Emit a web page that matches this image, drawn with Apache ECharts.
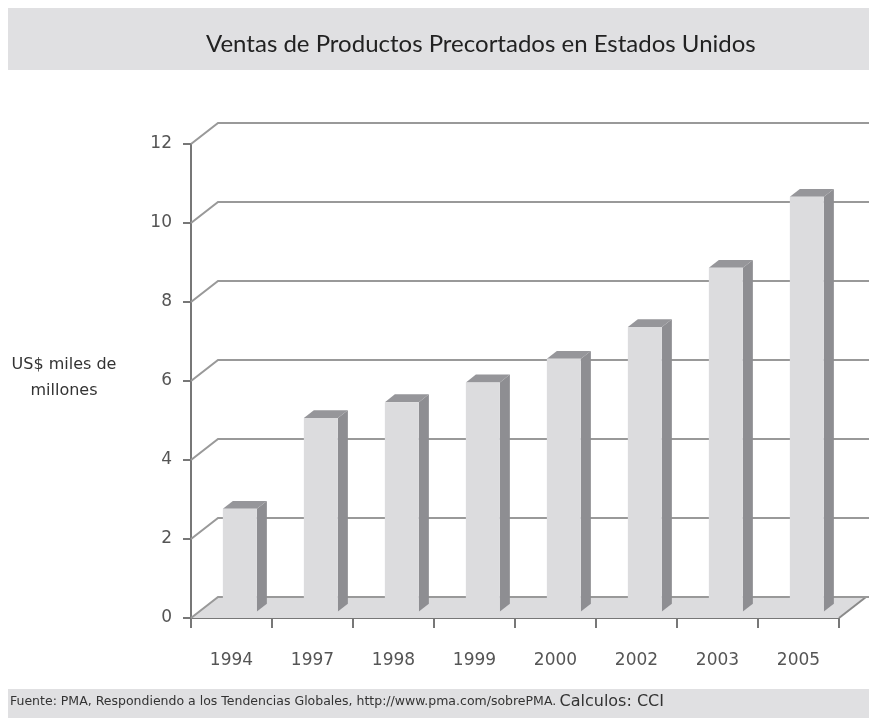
<!DOCTYPE html>
<html>
<head>
<meta charset="utf-8">
<script src="https://cdn.jsdelivr.net/npm/echarts@6/dist/echarts.min.js"></script>
<style>
  html, body { margin: 0; padding: 0; background: #fff; }
  #main { width: 869px; height: 718px; }
</style>
</head>
<body>
<div id="main"></div>
<script>
// datos
var years = ['1994', '1997', '1998', '1999', '2000', '2002', '2003', '2005'];
var ventas = [2.6, 4.9, 5.3, 5.8, 6.4, 7.2, 8.7, 10.5];
var yTicks = [0, 2, 4, 6, 8, 10, 12];

// profundidad del "3D"
var DX = 27, DY = 21;
var F0 = 0.31, F1 = 0.68;

var chart = echarts.init(document.getElementById('main'));

function renderFondo(params, api) {
  var cs = params.coordSys;
  var v = api.value(0);
  var p = api.coord([0, v]);
  var x0 = cs.x, y = p[1];
  var children = [];
  if (v === 0) {
    // piso
    children.push({
      type: 'polygon',
      shape: { points: [[x0, y], [x0 + cs.width, y], [x0 + cs.width + DX, y - DY], [x0 + DX, y - DY]] },
      style: { fill: '#dcdcde' }
    });
    children.push({
      type: 'line',
      shape: { x1: x0 + cs.width, y1: y, x2: x0 + cs.width + DX, y2: y - DY },
      style: { stroke: '#8a8a8a', lineWidth: 2 }
    });
  }
  children.push({
    type: 'polyline',
    shape: { points: [[x0, y], [x0 + DX, y - DY], [api.getWidth(), y - DY]] },
    style: { stroke: '#999', lineWidth: 2, fill: null }
  });
  return { type: 'group', children: children };
}

function renderBarra(params, api) {
  var i = api.value(0), v = api.value(1);
  var base = api.coord([i, 0]);
  var top = api.coord([i, v]);
  var band = api.size([1, 0])[0];
  var w = band * 0.42;
  var xl = base[0] - w / 2 + F0 * DX;
  var xr = xl + w;
  var yb = base[1] - F0 * DY;
  var yt = top[1] - F0 * DY;
  var ddx = (F1 - F0) * DX, ddy = (F1 - F0) * DY;
  return {
    type: 'group',
    children: [
      { type: 'polygon', shape: { points: [[xr, yt], [xr + ddx, yt - ddy], [xr + ddx, yb - ddy], [xr, yb]] },
        style: { fill: '#8e8e92' } },
      { type: 'polygon', shape: { points: [[xl, yt], [xr, yt], [xr + ddx, yt - ddy], [xl + ddx, yt - ddy]] },
        style: { fill: '#96969a' } },
      { type: 'rect', shape: { x: xl, y: yt, width: w, height: yb - yt },
        style: { fill: '#dcdcde' } }
    ]
  };
}

var option = {
  animation: false,
  backgroundColor: '#fff',
  textStyle: { fontFamily: 'DejaVu Sans' },
  title: {
    text: 'Ventas de Productos Precortados en Estados Unidos',
    left: 201, top: 27,
    textStyle: { fontFamily: 'Lato', fontSize: 24, fontWeight: 'normal', color: '#222' }
  },
  graphic: [
    { type: 'rect', z: -10, shape: { x: 8, y: 8, width: 861, height: 62 }, style: { fill: '#e0e0e2' } },
    { type: 'rect', z: -10, shape: { x: 8, y: 689, width: 861, height: 29 }, style: { fill: '#e0e0e2' } },
    { type: 'text', left: 10, top: 694,
      style: { text: '{a|Fuente: PMA, Respondiendo a los Tendencias Globales, http://www.pma.com/sobrePMA.} {b|Calculos: CCI}',
        rich: { a: { fontSize: 12.5, fill: '#333', fontFamily: 'DejaVu Sans' },
                b: { fontSize: 16, fill: '#333', fontFamily: 'DejaVu Sans' } } } },
    { type: 'text', x: 64, y: 352,
      style: { text: 'US$ miles de\nmillones', align: 'center', fontSize: 16, lineHeight: 26,
        fill: '#333', fontFamily: 'DejaVu Sans' } }
  ],
  grid: { left: 191, top: 144, width: 648, height: 474 },
  xAxis: {
    type: 'category',
    data: years,
    axisLine: { lineStyle: { color: '#777', width: 2 } },
    axisTick: { show: true, length: 10, interval: 0, lineStyle: { color: '#777', width: 2 } },
    axisLabel: { margin: 34, fontSize: 17, color: '#555' },
    splitLine: { show: false }
  },
  yAxis: {
    type: 'value',
    min: 0, max: 12, interval: 2,
    axisLine: { show: true, lineStyle: { color: '#777', width: 2 } },
    axisTick: { show: true, length: 8, lineStyle: { color: '#777', width: 2 } },
    axisLabel: { margin: 19, fontSize: 17, color: '#555' },
    splitLine: { show: false }
  },
  series: [
    {
      type: 'custom',
      renderItem: renderFondo,
      data: yTicks.map(function (t) { return [t]; }),
      encode: { y: 0 },
      z: 1,
      silent: true
    },
    {
      type: 'custom',
      renderItem: renderBarra,
      data: ventas.map(function (v, i) { return [i, v]; }),
      encode: { x: 0, y: 1 },
      z: 3
    }
  ]
};

chart.setOption(option);
</script>
</body>
</html>
